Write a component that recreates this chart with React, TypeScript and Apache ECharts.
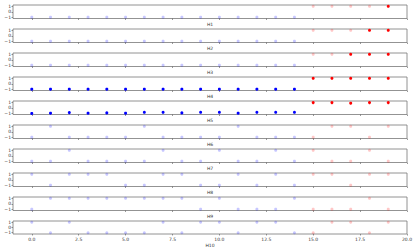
import React, { useEffect, useRef } from "react";
import * as echarts from "echarts";

const xValues = [0, 1, 2, 3, 4, 5, 6, 7, 8, 9, 10, 11, 12, 13, 14, 15, 16, 17, 18, 19];
const panelNames = ["H1", "H2", "H3", "H4", "H5", "H6", "H7", "H8", "H9", "H10"];
const xTicks = [0, 2.5, 5, 7.5, 10, 12.5, 15, 17.5, 20];
const yTicks = [-1, 0, 1];
const firstRedIndex = 15;

const h1 = [-1, -1, -1, -1, -1, -1, -1, -1, -1, -1, -1, -1, -1, -1, -1, 1, 1, 1, 1, 1];
const h2 = [-1, -1, -1, -1, -1, -1, -1, -1, -1, -1, -1, -1, -1, -1, -1, 1, 1, 1, 1, 1];
const h3 = [-1, -1, -1, -1, -1, -1, -1, -1, -1, -1, -1, -1, -1, -1, -1, 1, 1, 1, 1, 1];
const h4 = [-1, -1, -1, -1, -1, -1, -1, -1, -1, -1, -1, -1, -1, -1, -1, 1, 1, 1, 1, 1];
const h5 = [-1.05, -1.0, -0.9, -1.0, -0.95, -1.0, -0.85, -0.85, -0.95, -0.85, -0.85, -1.0, -0.85, -0.85, -0.85, 0.95, 0.95, 0.85, 0.95, 0.95];
const h6 = [-1, 1, -1, -1, -1, -1, 1, -1, -1, -1, -1, 1, -1, -1, -1, -1, 1, 1, -1, 1];
const h7 = [-1, -1, 1, -1, -1, -1, -1, 1, -1, -1, 1, -1, -1, 1, -1, 1, -1, -1, 1, -1];
const h8 = [1, -1, 1, 1, 1, -1, -1, 1, 1, -1, -1, 1, -1, 1, -1, 1, 1, -1, 1, 1];
const h9 = [-1, 1, 1, 1, 1, 1, 1, 1, 1, -1, 1, -1, -1, -1, 1, -1, -1, -1, 1, -1];
const h10 = [1, -1, 1, -1, -1, -1, -1, 1, -1, 1, 1, -1, 1, 1, -1, -1, 1, 1, -1, 1];
const panelValues = [h1, h2, h3, h4, h5, h6, h7, h8, h9, h10];

const highlighted: number[][] = [
  [19],
  [18, 19],
  [17, 18, 19],
  [0, 1, 2, 3, 4, 5, 6, 7, 8, 9, 10, 11, 12, 13, 14, 15, 16, 17, 18, 19],
  [0, 1, 2, 3, 4, 5, 6, 7, 8, 9, 10, 11, 12, 13, 14, 15, 16, 17, 18, 19],
  [],
  [],
  [],
  [],
  [],
];

const FONT = "DejaVu Sans";

export default function App() {
  const ref = useRef<HTMLDivElement>(null);
  useEffect(() => {
    document.body.style.margin = "0";
    const chart = echarts.init(ref.current!, null, { renderer: "svg" });
    const n = panelValues.length;
    const grids: any[] = [];
    const xAxes: any[] = [];
    const yAxes: any[] = [];
    const series: any[] = [];
    for (let i = 0; i < n; i++) {
      const last = i === n - 1;
      grids.push({
        left: 13,
        right: 8,
        top: 5 + 24 * i,
        height: 13.5,
        show: true,
        borderColor: "#777",
        borderWidth: 0.8,
        containLabel: false,
      });
      xAxes.push({
        type: "value",
        gridIndex: i,
        min: -1,
        max: 20,
        position: "bottom",
        name: panelNames[i],
        nameLocation: "middle",
        nameGap: last ? 9 : 3.5,
        nameTextStyle: { fontFamily: FONT, fontSize: 4.5, color: "#333" },
        axisLine: { show: false, onZero: false },
        axisTick: { show: true, customValues: xTicks, length: 1.5, lineStyle: { color: "#555", width: 0.6 } },
        axisLabel: {
          show: last,
          customValues: xTicks,
          formatter: (v: number) => v.toFixed(1),
          fontFamily: FONT,
          fontSize: 4.5,
          color: "#333",
          margin: 2.5,
        },
        splitLine: { show: false },
      });
      yAxes.push({
        type: "value",
        gridIndex: i,
        min: -1.25,
        max: 1.25,
        position: "left",
        axisLine: { show: false, onZero: false },
        axisTick: { show: true, customValues: yTicks, length: 1.5, lineStyle: { color: "#555", width: 0.6 } },
        axisLabel: {
          show: true,
          customValues: yTicks,
          formatter: (v: number) => (v < 0 ? "\u2212" + String(-v) : String(v)),
          fontFamily: FONT,
          fontSize: 4.5,
          color: "#333",
          margin: 2,
        },
        splitLine: { show: false },
      });
      const vals = panelValues[i];
      const hl = highlighted[i];
      series.push({
        type: "scatter",
        xAxisIndex: i,
        yAxisIndex: i,
        symbolSize: 3,
        data: xValues.map((x, k) => ({
          value: [x, vals[k]],
          itemStyle: {
            color: k >= firstRedIndex ? "#ff0000" : "#0000ff",
            opacity: hl.includes(x) ? 1 : 0.22,
          },
        })),
      });
    }
    chart.setOption({
      animation: false,
      backgroundColor: "#ffffff",
      grid: grids,
      xAxis: xAxes,
      yAxis: yAxes,
      series,
    });
    return () => chart.dispose();
  }, []);
  return <div ref={ref} style={{ width: 415, height: 249 }} />;
}
